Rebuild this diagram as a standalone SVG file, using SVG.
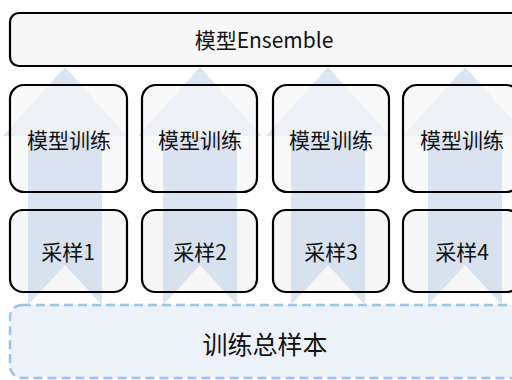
<svg xmlns="http://www.w3.org/2000/svg" width="512" height="380" viewBox="0 0 512 380">
<style>
.box{fill:#f7f7f7;stroke:#000;stroke-width:2.2}
.fill{fill:#f7f7f7}
.edge{fill:none;stroke:#000;stroke-width:2.2}
.veil{fill:#f7f7f7;fill-opacity:0.7;stroke:#000;stroke-width:2.2}
.arrow{fill:#c3d3ea;fill-opacity:0.6}
.shaft{fill:#c3d3ea;fill-opacity:0.45}
.t{font-family:"Noto Sans CJK SC","Noto Sans",sans-serif;fill:#111;text-anchor:middle;dominant-baseline:central}
.s{font-size:21px}
.b{font-size:25px}
</style>
<defs>
<path id="arr" d="M0,67 L62,136 L37,136 L37,305 L0,265 L-37,305 L-37,136 L-62,136 Z"/>
<rect id="sh" x="-37" y="136" width="74" height="55"/>
</defs>
<g id="total">
<rect x="10" y="305" width="530" height="73" rx="12" fill="#edf2f8" stroke="#9dc3e6" stroke-width="2.5" stroke-dasharray="9 5"/>
<text class="t b" x="265" y="343">训练总样本</text>
</g>
<g id="sample-fills">
<rect class="fill" x="10" y="210" width="117" height="82" rx="13"/>
<rect class="fill" x="142" y="210" width="115" height="82" rx="13"/>
<rect class="fill" x="273" y="210" width="116" height="82" rx="13"/>
<rect class="fill" x="403" y="210" width="117" height="82" rx="13"/>
</g>
<g id="connectors">
<use href="#arr" class="arrow" x="65"/>
<use href="#arr" class="arrow" x="200"/>
<use href="#arr" class="arrow" x="328"/>
<use href="#arr" class="arrow" x="465"/>
</g>
<g id="ensemble">
<rect class="box" x="10" y="13" width="530" height="53" rx="9"/>
<text class="t s" x="264" y="39">模型Ensemble</text>
</g>
<g id="train1"><rect class="veil" x="10" y="85" width="117" height="107" rx="14"/><use href="#sh" class="shaft" x="65"/><text class="t s" x="69" y="139">模型训练</text></g>
<g id="train2"><rect class="veil" x="142" y="85" width="115" height="107" rx="14"/><use href="#sh" class="shaft" x="200"/><text class="t s" x="200" y="139">模型训练</text></g>
<g id="train3"><rect class="veil" x="273" y="85" width="116" height="107" rx="14"/><use href="#sh" class="shaft" x="328"/><text class="t s" x="331" y="139">模型训练</text></g>
<g id="train4"><rect class="veil" x="403" y="85" width="117" height="107" rx="14"/><use href="#sh" class="shaft" x="465"/><text class="t s" x="462" y="139">模型训练</text></g>
<g id="sample1"><rect class="edge" x="10" y="210" width="117" height="82" rx="13"/><text class="t s" x="68" y="251">采样1</text></g>
<g id="sample2"><rect class="edge" x="142" y="210" width="115" height="82" rx="13"/><text class="t s" x="200" y="251">采样2</text></g>
<g id="sample3"><rect class="edge" x="273" y="210" width="116" height="82" rx="13"/><text class="t s" x="331" y="251">采样3</text></g>
<g id="sample4"><rect class="edge" x="403" y="210" width="117" height="82" rx="13"/><text class="t s" x="462" y="251">采样4</text></g>
</svg>
